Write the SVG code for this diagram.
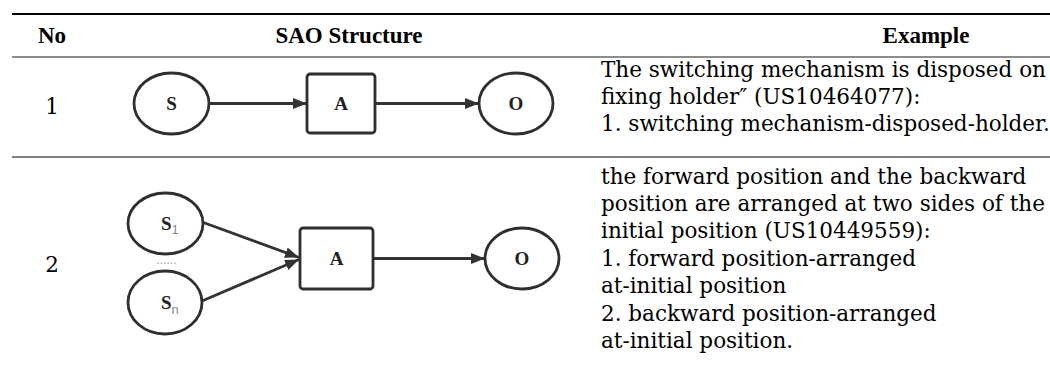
<svg xmlns="http://www.w3.org/2000/svg" width="1050" height="368" viewBox="0 0 1050 368">
<defs>
<marker id="arr" markerUnits="userSpaceOnUse" markerWidth="14" markerHeight="11" refX="14" refY="5.5" orient="auto">
<path d="M0,0 L14,5.5 L0,11 z" fill="#333"/>
</marker>
<style>
.hd{font-family:"Liberation Serif",serif;font-weight:bold;font-size:23px;fill:#000}
.tx{font-family:"DejaVu Serif","Liberation Serif",serif;font-size:21.5px;fill:#000}
.nd{fill:#fff;stroke:#2f2f2f;stroke-width:2.8}
.lb{font-family:"Liberation Serif",serif;font-weight:bold;font-size:19px;fill:#222;text-anchor:middle}
.sub{font-family:"Liberation Sans",sans-serif;font-size:13px;fill:#888}
.cn{stroke:#333;stroke-width:2.8;fill:none;marker-end:url(#arr)}
</style>
</defs>
<rect width="1050" height="368" fill="#fff"/>
<g id="table">
<line x1="12" y1="14" x2="1050" y2="14" stroke="#000" stroke-width="2"/>
<line x1="12" y1="57" x2="1050" y2="57" stroke="#666" stroke-width="1.5"/>
<line x1="12" y1="157" x2="1050" y2="157" stroke="#000" stroke-width="1"/>
<text class="hd" x="52" y="43" text-anchor="middle">No</text>
<text class="hd" x="349" y="43" text-anchor="middle">SAO Structure</text>
<text class="hd" x="926" y="43" text-anchor="middle">Example</text>
<text class="tx" x="52" y="114" text-anchor="middle">1</text>
<text class="tx" x="52" y="272" text-anchor="middle">2</text>
</g>
<g id="example1">
<text class="tx" x="601" y="77">The switching mechanism is disposed on</text>
<text class="tx" x="601" y="104">fixing holder″ (US10464077):</text>
<text class="tx" x="601" y="131">1. switching mechanism-disposed-holder.</text>
</g>
<g id="example2">
<text class="tx" x="601" y="184">the forward position and the backward</text>
<text class="tx" x="601" y="211">position are arranged at two sides of the</text>
<text class="tx" x="601" y="238">initial position (US10449559):</text>
<text class="tx" x="601" y="266">1. forward position-arranged</text>
<text class="tx" x="601" y="293">at-initial position</text>
<text class="tx" x="601" y="321">2. backward position-arranged</text>
<text class="tx" x="601" y="348">at-initial position.</text>
</g>
<g id="connectors">
<line class="cn" x1="209" y1="103.5" x2="307" y2="103.5"/>
<line class="cn" x1="375" y1="103.5" x2="479" y2="103.5"/>
<line class="cn" x1="202" y1="222" x2="299" y2="257.5"/>
<line class="cn" x1="202" y1="301" x2="299" y2="259.5"/>
<line class="cn" x1="373" y1="258.5" x2="485" y2="258.5"/>
</g>
<g id="s1">
<ellipse class="nd" cx="171.5" cy="103.5" rx="37.5" ry="30.5"/>
<text class="lb" x="171.5" y="110">S</text>
</g>
<g id="a1">
<rect class="nd" x="307" y="74" width="68" height="59" rx="3"/>
<text class="lb" x="341" y="110">A</text>
</g>
<g id="o1">
<ellipse class="nd" cx="516" cy="103.5" rx="37" ry="30.5"/>
<text class="lb" x="516" y="110">O</text>
</g>
<g id="s21">
<ellipse class="nd" cx="165.5" cy="223.5" rx="37.5" ry="30.5"/>
<text x="167.5" y="230"><tspan class="lb" style="text-anchor:start" x="161">S</tspan><tspan class="sub" dy="4">1</tspan></text>
</g>
<g id="dots">
<text x="166.5" y="264" style="font-family:'Liberation Sans',sans-serif;font-size:12px;fill:#999;text-anchor:middle">......</text>
</g>
<g id="s2n">
<ellipse class="nd" cx="165" cy="302.5" rx="37" ry="31.5"/>
<text x="167.5" y="309"><tspan class="lb" style="text-anchor:start" x="161">S</tspan><tspan class="sub" dy="5">n</tspan></text>
</g>
<g id="a2">
<rect class="nd" x="300" y="228" width="73" height="61" rx="3"/>
<text class="lb" x="336.5" y="265">A</text>
</g>
<g id="o2">
<ellipse class="nd" cx="522" cy="258.5" rx="37" ry="30.5"/>
<text class="lb" x="522" y="265">O</text>
</g>
</svg>
